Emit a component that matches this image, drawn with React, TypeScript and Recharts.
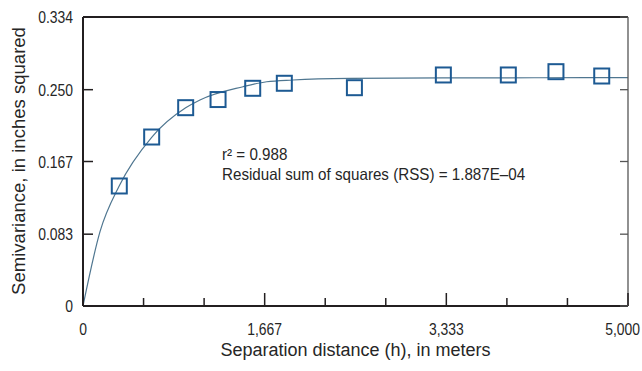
import React from 'react';
import { ComposedChart, Line, Scatter, XAxis, YAxis, Label } from 'recharts';

// ---- data ----
const xTicks = [0, 555.6, 1111.1, 1666.7, 2222.2, 2777.8, 3333.3, 3888.9, 4444.4, 5000];
const xTickLabels = ['0', '', '', '1,667', '', '', '3,333', '', '', '5,000'];
const yTicks = [0, 0.083, 0.167, 0.25, 0.334];
const yTickLabels = ['0', '0.083', '0.167', '0.250', '0.334'];

const sampleDistance = [333, 630, 942, 1239, 1557, 1847, 2490, 3306, 3902, 4339, 4759];
const sampleSemivariance = [0.1387, 0.1953, 0.2292, 0.2386, 0.2516, 0.2574, 0.2523, 0.267, 0.267, 0.2708, 0.2658];

const modelDistance = [0, 156, 333, 630, 942, 1073, 1468, 1685, 1927, 2450, 3300, 4200, 5000];
const modelSemivariance = [0, 0.0859, 0.139, 0.195, 0.229, 0.2381, 0.2534, 0.2592, 0.2612, 0.263, 0.2636, 0.2638, 0.2639];

const xTitle = 'Separation distance (h), in meters';
const yTitle = 'Semivariance, in inches squared';
const noteLine1 = 'r\u00B2 = 0.988';
const noteLine2 = 'Residual sum of squares (RSS) = 1.887E\u201304';

const samples = sampleDistance.map((x, i) => ({ x, y: sampleSemivariance[i] }));
const model = modelDistance.map((x, i) => ({ x, y: modelSemivariance[i] }));

const FONT = "'Liberation Sans', Arial, sans-serif";
const AXIS = '#231f20';
const TEXT = '#262626';

const BottomTick = (props: any) => {
  const { x, y, index } = props;
  const major = index % 3 === 0;
  const label = xTickLabels[index];
  const isLast = index === xTicks.length - 1;
  const tx = isLast ? 640 : x;
  return (
    <g>
      <line x1={x} y1={y} x2={x} y2={y - (major ? 13 : 8)} stroke={AXIS} strokeWidth={1.5} />
      {label ? (
        <text
          transform={`translate(${tx} ${y + 29}) scale(0.82 1)`}
          x={0}
          y={0}
          textAnchor={isLast ? 'end' : 'middle'}
          fontFamily={FONT}
          fontSize={17}
          fill={TEXT}
        >
          {label}
        </text>
      ) : null}
    </g>
  );
};

const TopTick = (props: any) => {
  const { x, y, index } = props;
  const major = index % 3 === 0;
  return <line x1={x} y1={y} x2={x} y2={y + (major ? 9 : 7)} stroke={AXIS} strokeWidth={1.5} />;
};

const LeftTick = (props: any) => {
  const { x, y, index } = props;
  return (
    <g>
      <line x1={x} y1={y} x2={x + 10} y2={y} stroke={AXIS} strokeWidth={1.5} />
      <text
        transform={`translate(${x - 10} ${y + 6}) scale(0.82 1)`}
        x={0}
        y={0}
        textAnchor="end"
        fontFamily={FONT}
        fontSize={17}
        fill={TEXT}
      >
        {yTickLabels[index]}
      </text>
    </g>
  );
};

const RightTick = (props: any) => {
  const { x, y } = props;
  return <line x1={x} y1={y} x2={x - 8} y2={y} stroke="#555" strokeWidth={1.3} />;
};

const Square = (props: any) => {
  const { cx, cy } = props;
  return (
    <rect x={cx - 7.5} y={cy - 7.5} width={15} height={15} fill="none" stroke="#1d5a93" strokeWidth={2} />
  );
};

const Titles = (props: any) => {
  const vb = props.viewBox || { x: 83, y: 306, width: 545 };
  const cx = vb.x + vb.width / 2;
  return (
    <g fontFamily={FONT} fill={TEXT}>
      <text transform={`translate(${cx} ${vb.y + 50}) scale(1.0 1)`} x={0} y={0} textAnchor="middle" fontSize={18}>
        {xTitle}
      </text>
      <text transform="translate(25 161) rotate(-90) scale(1.03 1)" x={0} y={0} textAnchor="middle" fontSize={18}>
        {yTitle}
      </text>
      <text transform="translate(222 160) scale(0.92 1)" x={0} y={0} fontSize={16.5}>
        {noteLine1}
      </text>
      <text transform="translate(222 179.5) scale(0.92 1)" x={0} y={0} fontSize={16.5}>
        {noteLine2}
      </text>
    </g>
  );
};

export default function App() {
  return (
    <div style={{ position: 'absolute', left: 0, top: 0, width: 642, height: 371, background: '#fff' }}>
      <ComposedChart width={642} height={371} margin={{ top: 7, right: 4, bottom: 35, left: 43 }}>
        <XAxis
          xAxisId={0}
          type="number"
          dataKey="x"
          domain={[0, 5000]}
          ticks={xTicks}
          interval={0}
          height={30}
          tickSize={0}
          tickMargin={0}
          tickLine={false}
          axisLine={{ stroke: AXIS, strokeWidth: 2 }}
          tick={<BottomTick />}
          allowDataOverflow
        >
          <Label content={<Titles />} />
        </XAxis>
        <XAxis
          xAxisId="top"
          orientation="top"
          type="number"
          domain={[0, 5000]}
          ticks={xTicks}
          interval={0}
          height={10}
          tickSize={0}
          tickMargin={0}
          tickLine={false}
          axisLine={{ stroke: AXIS, strokeWidth: 2 }}
          tick={<TopTick />}
          allowDataOverflow
        />
        <YAxis
          yAxisId={0}
          type="number"
          domain={[0, 0.334]}
          ticks={yTicks}
          interval={0}
          width={40}
          tickSize={0}
          tickMargin={0}
          tickLine={false}
          axisLine={{ stroke: AXIS, strokeWidth: 2 }}
          tick={<LeftTick />}
          allowDataOverflow
        />
        <YAxis
          yAxisId="right"
          orientation="right"
          type="number"
          domain={[0, 0.334]}
          ticks={yTicks}
          interval={0}
          width={10}
          tickSize={0}
          tickMargin={0}
          tickLine={false}
          axisLine={{ stroke: '#555', strokeWidth: 1.3 }}
          tick={<RightTick />}
          allowDataOverflow
        />
        <Line
          data={model}
          dataKey="y"
          type="monotone"
          stroke="#4f7690"
          strokeWidth={1.2}
          dot={false}
          activeDot={false}
          isAnimationActive={false}
        />
        <Scatter data={samples} dataKey="y" shape={<Square />} isAnimationActive={false} />
      </ComposedChart>
    </div>
  );
}
